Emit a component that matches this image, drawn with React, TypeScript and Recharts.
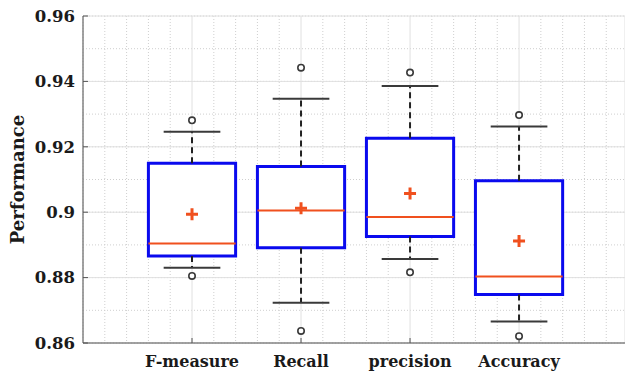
import {
  CartesianGrid,
  ComposedChart,
  ReferenceArea,
  ReferenceLine,
  Scatter,
  XAxis,
  YAxis,
} from "recharts";

// box plot stats
const categories = ["F-measure", "Recall", "precision", "Accuracy"];
const q1 = [0.8866, 0.8891, 0.8926, 0.8748];
const q3 = [0.915, 0.914, 0.9226, 0.9096];
const medians = [0.8904, 0.9005, 0.8985, 0.8803];
const means = [0.8994, 0.9012, 0.9057, 0.8912];
const whiskerLow = [0.883, 0.8723, 0.8857, 0.8666];
const whiskerHigh = [0.9246, 0.9347, 0.9386, 0.9262];
const outlierLow = [0.8805, 0.8637, 0.8816, 0.8621];
const outlierHigh = [0.9281, 0.9442, 0.9427, 0.9297];

const yTicks = [0.86, 0.88, 0.9, 0.92, 0.94, 0.96];
const yTickLabels = ["0.86", "0.88", "0.9", "0.92", "0.94", "0.96"];
const xTicks = [1, 2, 3, 4];

const minorY = Array.from({ length: 21 }, (_, i) => +(0.86 + i * 0.005).toFixed(3));
const minorX = Array.from({ length: 25 }, (_, i) => +(i * 0.2).toFixed(1));

const BOX_HALF = 0.4;
const CAP_HALF = 0.26;
const BLUE = "#0a0aee";
const RED = "#f0501e";
const DARK = "#3a3a3a";
const FONT = "'DejaVu Serif', serif";

const outliers = categories.flatMap((_, i) => [
  { x: i + 1, y: outlierLow[i] },
  { x: i + 1, y: outlierHigh[i] },
]);
const meanPoints = categories.map((_, i) => ({ x: i + 1, y: means[i] }));

const OutlierShape = (p: any) => (
  <circle cx={p.cx} cy={p.cy} r={3.2} fill="#fff" stroke={DARK} strokeWidth={1.6} />
);

const PlusShape = (p: any) => (
  <path
    d={`M${p.cx - 6},${p.cy}H${p.cx + 6}M${p.cx},${p.cy - 6}V${p.cy + 6}`}
    stroke={RED}
    strokeWidth={3}
    fill="none"
  />
);

export default function App() {
  return (
    <div style={{ position: "absolute", left: 0, top: 0 }}>
      <ComposedChart
        width={625}
        height={372}
        margin={{ top: 16, right: 0, left: 0, bottom: 0 }}
      >
        <CartesianGrid
          stroke="#cfcfcf"
          strokeDasharray="1 2"
          horizontalValues={minorY}
          verticalValues={minorX}
        />
        <CartesianGrid stroke="#e0e0e0" />
        <XAxis
          type="number"
          dataKey="x"
          domain={[0, 4.972]}
          ticks={xTicks}
          allowDataOverflow
          tickFormatter={(v: number) => categories[v - 1] ?? ""}
          height={29}
          tickSize={-5}
          tickMargin={18}
          axisLine={{ stroke: "#555" }}
          tickLine={{ stroke: "#555" }}
          tick={{ fill: "#1a1a1a", fontFamily: FONT, fontWeight: "bold", fontSize: 16 }}
        />
        <YAxis
          type="number"
          dataKey="y"
          domain={[0.86, 0.96]}
          ticks={yTicks}
          allowDataOverflow
          tickFormatter={(v: number) => yTickLabels[yTicks.indexOf(v)] ?? String(v)}
          width={83}
          tickSize={-5}
          tickMargin={13}
          axisLine={{ stroke: "#555" }}
          tickLine={{ stroke: "#555" }}
          tick={{ fill: "#1a1a1a", fontFamily: FONT, fontWeight: "bold", fontSize: 16.5 }}
          label={{
            value: "Performance",
            angle: -90,
            position: "insideLeft",
            offset: 18,
            style: {
              textAnchor: "middle",
              fill: "#1a1a1a",
              fontFamily: FONT,
              fontWeight: "bold",
              fontSize: 18,
            },
          }}
        />

        {/* whiskers */}
        {categories.map((c, i) => (
          <ReferenceLine
            key={c + "wh"}
            segment={[
              { x: i + 1, y: q3[i] },
              { x: i + 1, y: whiskerHigh[i] },
            ]}
            stroke="#222"
            strokeWidth={2}
            strokeDasharray="6 4"
          />
        ))}
        {categories.map((c, i) => (
          <ReferenceLine
            key={c + "wl"}
            segment={[
              { x: i + 1, y: q1[i] },
              { x: i + 1, y: whiskerLow[i] },
            ]}
            stroke="#222"
            strokeWidth={2}
            strokeDasharray="6 4"
          />
        ))}
        {categories.map((c, i) => (
          <ReferenceLine
            key={c + "ch"}
            segment={[
              { x: i + 1 - CAP_HALF, y: whiskerHigh[i] },
              { x: i + 1 + CAP_HALF, y: whiskerHigh[i] },
            ]}
            stroke={DARK}
            strokeWidth={2}
          />
        ))}
        {categories.map((c, i) => (
          <ReferenceLine
            key={c + "cl"}
            segment={[
              { x: i + 1 - CAP_HALF, y: whiskerLow[i] },
              { x: i + 1 + CAP_HALF, y: whiskerLow[i] },
            ]}
            stroke={DARK}
            strokeWidth={2}
          />
        ))}

        {/* boxes */}
        {categories.map((c, i) => (
          <ReferenceArea
            key={c + "box"}
            x1={i + 1 - BOX_HALF}
            x2={i + 1 + BOX_HALF}
            y1={q1[i]}
            y2={q3[i]}
            fill="#fff"
            fillOpacity={1}
            stroke={BLUE}
            strokeWidth={3}
          />
        ))}
        {categories.map((c, i) => (
          <ReferenceLine
            key={c + "med"}
            segment={[
              { x: i + 1 - BOX_HALF, y: medians[i] },
              { x: i + 1 + BOX_HALF, y: medians[i] },
            ]}
            stroke={RED}
            strokeWidth={2}
          />
        ))}

        <Scatter data={outliers} shape={OutlierShape} isAnimationActive={false} />
        <Scatter data={meanPoints} shape={PlusShape} isAnimationActive={false} />
      </ComposedChart>
    </div>
  );
}
